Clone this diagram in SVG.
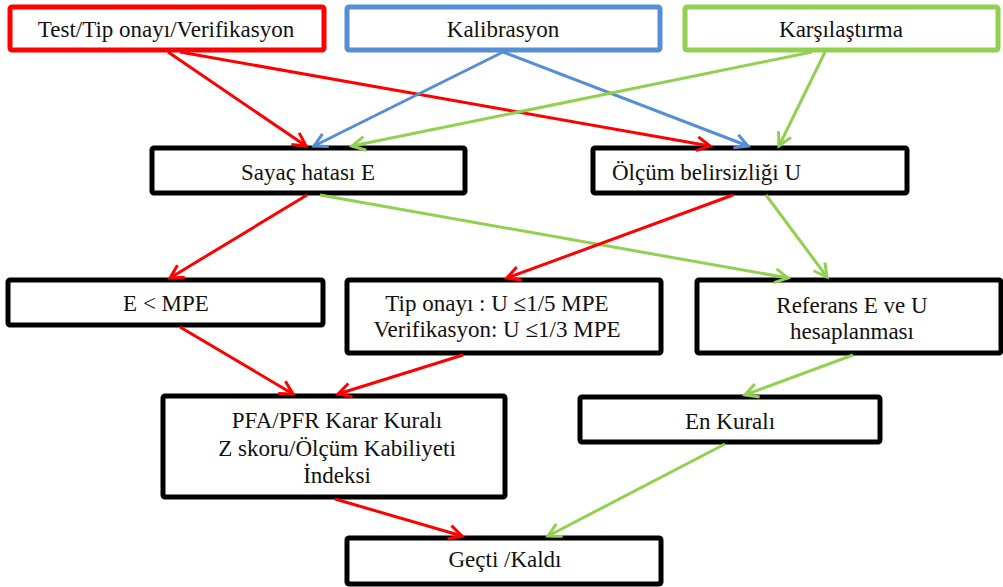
<svg xmlns="http://www.w3.org/2000/svg" width="1003" height="587" viewBox="0 0 1003 587">
<style>
.box{fill:#fff;stroke:#000;stroke-width:5;}
.t{font-family:'Liberation Serif','Times New Roman','DejaVu Serif','Noto Serif',serif;font-size:23px;fill:#111;text-anchor:middle;}
.r{stroke:#FF0000;}
.b{stroke:#558ED5;}
.g{stroke:#92D050;}
.c line{stroke-width:3;fill:none;}
</style>
<defs>
<marker id="ar" markerUnits="userSpaceOnUse" markerWidth="30" markerHeight="30" refX="0" refY="0" viewBox="-15 -15 30 30" orient="auto" overflow="visible"><path d="M-13,-7 L0,0 L-13,7" fill="none" stroke="#FF0000" stroke-width="3"/></marker>
<marker id="ab" markerUnits="userSpaceOnUse" markerWidth="30" markerHeight="30" refX="0" refY="0" viewBox="-15 -15 30 30" orient="auto" overflow="visible"><path d="M-13,-7 L0,0 L-13,7" fill="none" stroke="#558ED5" stroke-width="3"/></marker>
<marker id="ag" markerUnits="userSpaceOnUse" markerWidth="30" markerHeight="30" refX="0" refY="0" viewBox="-15 -15 30 30" orient="auto" overflow="visible"><path d="M-13,-7 L0,0 L-13,7" fill="none" stroke="#92D050" stroke-width="3"/></marker>
</defs>
<rect width="1003" height="587" fill="#fff"/>
<g id="n-test"><rect x="10" y="7" width="314" height="43" rx="2" class="box" style="stroke:#FF0000"/><text x="166" y="37" class="t">Test/Tip onayı/Verifikasyon</text></g>
<g id="n-kalibrasyon"><rect x="347" y="7" width="313" height="43" rx="2" class="box" style="stroke:#558ED5"/><text x="503" y="37" class="t">Kalibrasyon</text></g>
<g id="n-karsilastirma"><rect x="685" y="7" width="313" height="43" rx="2" class="box" style="stroke:#92D050"/><text x="841" y="37" class="t">Karşılaştırma</text></g>
<g id="n-sayac"><rect x="152" y="148" width="313" height="45" rx="2" class="box"/><text x="308" y="180" class="t">Sayaç hatası E</text></g>
<g id="n-olcum"><rect x="593" y="148" width="314" height="45" rx="2" class="box"/><text x="612" y="180" class="t" style="text-anchor:start">Ölçüm belirsizliği U</text></g>
<g id="n-emp"><rect x="8" y="280" width="315" height="45" rx="2" class="box"/><text x="166" y="311" class="t">E &lt; MPE</text></g>
<g id="n-tip"><rect x="347" y="280" width="314" height="73" rx="2" class="box"/><text x="497" y="311" class="t">Tip onayı : U ≤1/5 MPE</text><text x="497" y="337" class="t">Verifikasyon: U ≤1/3 MPE</text></g>
<g id="n-referans"><rect x="697" y="280" width="304" height="73" rx="2" class="box"/><text x="852" y="313" class="t">Referans E ve U</text><text x="852" y="339" class="t">hesaplanması</text></g>
<g id="n-pfa"><rect x="163" y="396" width="342" height="101" rx="2" class="box"/><text x="337" y="428" class="t">PFA/PFR Karar Kuralı</text><text x="337" y="456" class="t">Z skoru/Ölçüm Kabiliyeti</text><text x="337" y="483" class="t">İndeksi</text></g>
<g id="n-en"><rect x="580" y="397" width="300" height="45" rx="2" class="box"/><text x="730" y="429" class="t">En Kuralı</text></g>
<g id="n-gecti"><rect x="347" y="538" width="314" height="46" rx="2" class="box"/><text x="505" y="567" class="t">Geçti /Kaldı</text></g>
<g id="connectors" class="c">
<line class="r" x1="168" y1="52" x2="306" y2="146" marker-end="url(#ar)"/>
<line class="r" x1="180" y1="52" x2="710" y2="146" marker-end="url(#ar)"/>
<line class="b" x1="503" y1="52" x2="314" y2="146" marker-end="url(#ab)"/>
<line class="b" x1="503" y1="52" x2="748" y2="146" marker-end="url(#ab)"/>
<line class="g" x1="812" y1="52" x2="352" y2="146" marker-end="url(#ag)"/>
<line class="g" x1="825" y1="52" x2="779" y2="146" marker-end="url(#ag)"/>
<line class="r" x1="307" y1="195" x2="170" y2="278" marker-end="url(#ar)"/>
<line class="g" x1="320" y1="195" x2="788" y2="278" marker-end="url(#ag)"/>
<line class="r" x1="733" y1="195" x2="507" y2="278" marker-end="url(#ar)"/>
<line class="g" x1="766" y1="195" x2="827" y2="277" marker-end="url(#ag)"/>
<line class="r" x1="180" y1="327" x2="293" y2="394" marker-end="url(#ar)"/>
<line class="r" x1="463" y1="355" x2="338" y2="394" marker-end="url(#ar)"/>
<line class="g" x1="853" y1="355" x2="745" y2="395" marker-end="url(#ag)"/>
<line class="r" x1="335" y1="499" x2="462" y2="536" marker-end="url(#ar)"/>
<line class="g" x1="725" y1="444" x2="548" y2="536" marker-end="url(#ag)"/>
</g>
</svg>
